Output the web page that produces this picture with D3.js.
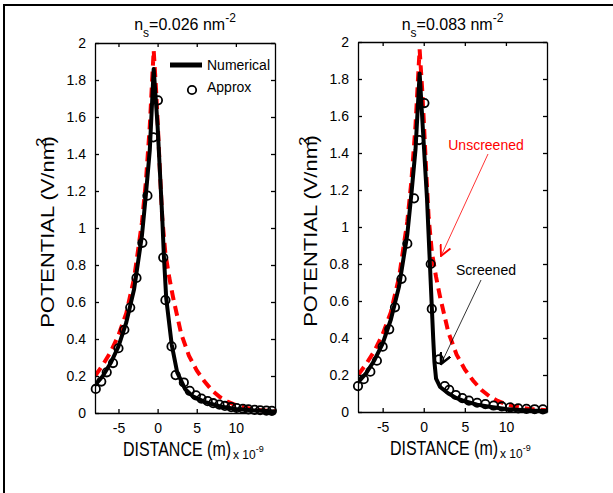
<!DOCTYPE html>
<html>
<head>
<meta charset="utf-8">
<script src="https://cdn.jsdelivr.net/npm/d3@7"></script>
<style>
  body { margin: 0; background: #fff; }
  text { font-family: "Liberation Sans", Arial, sans-serif; }
</style>
</head>
<body>
<div id="chart"></div>
<script>
// data (x in units of 1e-9 m)
const xTicks = [-5, 0, 5, 10];
const yTicks = [0, 0.2, 0.4, 0.6, 0.8, 1, 1.2, 1.4, 1.6, 1.8, 2];

// unscreened potential (red dashed), same in both panels
const unscrX = [-8, -7, -6, -5, -4, -3, -2, -1.5, -1, -0.7, -0.5, -0.2, 0, 0.3, 0.6, 1, 1.5, 2, 3, 4, 5, 6, 7, 8, 9, 10, 11, 12, 13, 14, 15];
const unscrY = [0.2, 0.26, 0.33, 0.42, 0.54, 0.73, 1.03, 1.25, 1.55, 1.8, 1.96, 1.75, 1.58, 1.3, 1.05, 0.86, 0.73, 0.62, 0.43, 0.31, 0.23, 0.17, 0.12, 0.085, 0.06, 0.043, 0.031, 0.022, 0.016, 0.012, 0.01];

// numerical, n_s = 0.026
const numAX = [-8, -7, -6, -5, -4, -3, -2, -1.5, -1, -0.5, 0, 0.3, 0.6, 0.8, 1.1, 1.8, 2.5, 3.5, 4.5, 6, 8, 10, 12, 15];
const numAY = [0.15, 0.2, 0.27, 0.36, 0.49, 0.67, 0.96, 1.18, 1.42, 1.86, 1.55, 1.3, 1.05, 0.85, 0.62, 0.37, 0.22, 0.13, 0.09, 0.06, 0.035, 0.022, 0.015, 0.008];

// approx, n_s = 0.026
const apxAX = [-7.9, -7.2, -6.5, -5.7, -5.0, -4.25, -3.5, -2.7, -1.95, -1.3, -0.55, 0.04, 0.72, 1.0, 1.78, 2.3, 3.35, 4.1, 4.9, 5.6, 6.4, 7.1, 7.9, 8.6, 9.4, 10.1, 10.9, 11.6, 12.4, 13.1, 13.9, 14.6];
const apxAY = [0.13, 0.17, 0.22, 0.27, 0.35, 0.45, 0.57, 0.73, 0.92, 1.175, 1.49, 1.69, 0.84, 0.61, 0.36, 0.205, 0.165, 0.12, 0.095, 0.078, 0.064, 0.053, 0.045, 0.038, 0.032, 0.027, 0.023, 0.02, 0.017, 0.015, 0.013, 0.012];

// numerical, n_s = 0.083
const numBX = [-8, -7, -6, -5, -4, -3, -2, -1.5, -1, -0.5, 0, 0.4, 0.7, 0.95, 1.15, 1.3, 1.5, 2, 3, 4, 5, 6.5, 8, 10, 13, 15];
const numBY = [0.16, 0.21, 0.28, 0.37, 0.5, 0.68, 0.96, 1.18, 1.42, 1.83, 1.45, 1.15, 0.85, 0.6, 0.4, 0.27, 0.18, 0.135, 0.1, 0.075, 0.058, 0.04, 0.028, 0.016, 0.008, 0.005];

// approx, n_s = 0.083
const apxBX = [-8.0, -7.3, -6.5, -5.7, -5.0, -4.2, -3.5, -2.7, -2.0, -1.18, -0.57, 0.08, 0.85, 0.98, 1.87, 2.56, 3.1, 3.9, 4.7, 5.5, 6.5, 7.5, 8.5, 9.5, 10.5, 11.5, 12.5, 13.5, 14.5];
const apxBY = [0.14, 0.177, 0.218, 0.277, 0.353, 0.447, 0.566, 0.72, 0.91, 1.155, 1.47, 1.67, 0.8, 0.557, 0.285, 0.14, 0.12, 0.092, 0.075, 0.062, 0.05, 0.043, 0.035, 0.03, 0.025, 0.02, 0.017, 0.015, 0.014];

const panels = [
  { title: "0.026", left: 95, right: 275, top: 43, bottom: 413, numX: numAX, numY: numAY, apxX: apxAX, apxY: apxAY },
  { title: "0.083", left: 358, right: 547, top: 42, bottom: 412, numX: numBX, numY: numBY, apxX: apxBX, apxY: apxBY }
];

const svg = d3.select("#chart").append("svg")
  .attr("width", 613).attr("height", 493);

svg.append("rect").attr("width", 613).attr("height", 493).attr("fill", "#fff");

// outer page frame
svg.append("path")
  .attr("d", "M4,493 V5 H613")
  .attr("fill", "none").attr("stroke", "#000").attr("stroke-width", 2);

const defs = svg.append("defs");
defs.append("marker")
  .attr("id", "arrRed").attr("viewBox", "0 0 10 10")
  .attr("refX", 9).attr("refY", 5)
  .attr("markerWidth", 12).attr("markerHeight", 12).attr("markerUnits", "userSpaceOnUse")
  .attr("orient", "auto")
  .append("path").attr("d", "M0,0.5 L9,5 L0,9.5").attr("fill", "none").attr("stroke", "red").attr("stroke-width", 1.6);
defs.append("marker")
  .attr("id", "arrBlack").attr("viewBox", "0 0 10 10")
  .attr("refX", 9).attr("refY", 5)
  .attr("markerWidth", 12).attr("markerHeight", 12).attr("markerUnits", "userSpaceOnUse")
  .attr("orient", "auto")
  .append("path").attr("d", "M0,0.5 L9,5 L0,9.5").attr("fill", "none").attr("stroke", "#000").attr("stroke-width", 2);

const fmtTick = d => String(+d.toFixed(1));

panels.forEach(function (p, i) {
  const x = d3.scaleLinear().domain([-8, 15]).range([p.left, p.right]);
  const y = d3.scaleLinear().domain([0, 2]).range([p.bottom, p.top]);
  const g = svg.append("g");

  g.append("rect")
    .attr("x", p.left).attr("y", p.top)
    .attr("width", p.right - p.left).attr("height", p.bottom - p.top)
    .attr("fill", "#fff");

  const clipId = "clip" + i;
  defs.append("clipPath").attr("id", clipId)
    .append("rect").attr("x", p.left).attr("y", p.top - 10)
    .attr("width", p.right - p.left).attr("height", p.bottom - p.top + 10);

  const line = d3.line().x(d => x(d[0])).y(d => y(d[1]));

  // red dashed unscreened
  g.append("path")
    .datum(unscrX.map((v, k) => [v, unscrY[k]]))
    .attr("d", line)
    .attr("clip-path", "url(#" + clipId + ")")
    .attr("fill", "none").attr("stroke", "#ff0000")
    .attr("stroke-width", 4).attr("stroke-dasharray", "10,6");

  // black numerical
  g.append("path")
    .datum(p.numX.map((v, k) => [v, p.numY[k]]))
    .attr("d", line)
    .attr("clip-path", "url(#" + clipId + ")")
    .attr("fill", "none").attr("stroke", "#000")
    .attr("stroke-width", 4).attr("stroke-linejoin", "round");

  // approx circles
  g.selectAll("circle.apx")
    .data(p.apxX.map((v, k) => [v, p.apxY[k]]))
    .enter().append("circle")
    .attr("class", "apx")
    .attr("cx", d => x(d[0])).attr("cy", d => y(d[1]))
    .attr("r", 4.2)
    .attr("fill", "none").attr("stroke", "#000").attr("stroke-width", 1.8);

  // axes (MATLAB box, ticks inside)
  g.append("g").attr("transform", "translate(0," + p.bottom + ")")
    .call(d3.axisBottom(x).tickValues(xTicks).tickSizeInner(-4).tickSizeOuter(0).tickPadding(10).tickFormat(d => String(d)))
    .call(a => a.selectAll("text").attr("font-size", 14).attr("fill", "#000").attr("font-family", "Liberation Sans, Arial"));
  g.append("g").attr("transform", "translate(0," + p.top + ")")
    .call(d3.axisTop(x).tickValues(xTicks).tickSizeInner(-4).tickSizeOuter(0).tickFormat(""));
  g.append("g").attr("transform", "translate(" + p.left + ",0)")
    .call(d3.axisLeft(y).tickValues(yTicks).tickSizeInner(-4).tickSizeOuter(0).tickPadding(9).tickFormat(fmtTick))
    .call(a => a.selectAll("text").attr("font-size", 14).attr("fill", "#000").attr("font-family", "Liberation Sans, Arial"));
  g.append("g").attr("transform", "translate(" + p.right + ",0)")
    .call(d3.axisRight(y).tickValues(yTicks).tickSizeInner(-4).tickSizeOuter(0).tickFormat(""));
  g.selectAll(".domain").attr("stroke", "#000").attr("stroke-width", 1.3);
  g.selectAll(".tick line").attr("stroke", "#000").attr("stroke-width", 1.3);

  const cx = (p.left + p.right) / 2;

  // title
  const t = g.append("text").attr("x", cx).attr("y", 30).attr("text-anchor", "middle")
    .attr("font-size", 16);
  t.append("tspan").text("n");
  t.append("tspan").attr("font-size", 12).attr("dy", 7).text("s");
  t.append("tspan").attr("dy", -7).text("=" + p.title + " nm");
  t.append("tspan").attr("font-size", 12).attr("dy", -8).text("-2");

  // y label (stretched along its length like the picture)
  const yl = g.append("text")
    .attr("transform", "translate(" + (p.left - 41) + "," + ((p.top + p.bottom) / 2 + 4) + ") rotate(-90) scale(1.22,1)")
    .attr("text-anchor", "middle").attr("font-size", 18);
  yl.append("tspan").text("POTENTIAL (V/nm");
  yl.append("tspan").attr("font-size", 14).attr("dy", -8).attr("dx", -4).text("2");
  yl.append("tspan").attr("dy", 8).attr("dx", -5).text(")");

  // x label (stretched vertically like the picture)
  const lx = (i === 0 ? 177 : 444);
  g.append("text")
    .attr("transform", "translate(" + lx + "," + (p.bottom + 43) + ") scale(1,1.3)")
    .attr("text-anchor", "middle").attr("font-size", 16).text("DISTANCE (m)");
  const ex = g.append("text").attr("x", lx + 56).attr("y", p.bottom + 46)
    .attr("font-size", 12);
  ex.append("tspan").text("x 10");
  ex.append("tspan").attr("font-size", 9).attr("dy", -7).text("-9");

  if (i === 0) {
    // legend
    g.append("line").attr("x1", p.left + 75).attr("x2", p.left + 107)
      .attr("y1", 65).attr("y2", 65).attr("stroke", "#000").attr("stroke-width", 5);
    g.append("text").attr("x", p.left + 112).attr("y", 70).attr("font-size", 14).text("Numerical");
    g.append("circle").attr("cx", p.left + 97).attr("cy", 90).attr("r", 4.2)
      .attr("fill", "none").attr("stroke", "#000").attr("stroke-width", 1.8);
    g.append("text").attr("x", p.left + 112).attr("y", 92).attr("font-size", 14).text("Approx");
  } else {
    // annotations
    g.append("text").attr("x", 486).attr("y", 150).attr("text-anchor", "middle")
      .attr("font-size", 14).attr("fill", "#ff0000").text("Unscreened");
    g.append("line").attr("x1", 488).attr("y1", 154).attr("x2", 441).attr("y2", 256)
      .attr("stroke", "#ff0000").attr("stroke-width", 0.8).attr("marker-end", "url(#arrRed)");
    g.append("text").attr("x", 486).attr("y", 275).attr("text-anchor", "middle")
      .attr("font-size", 14).attr("fill", "#000").text("Screened");
    g.append("line").attr("x1", 481).attr("y1", 280).attr("x2", 441).attr("y2", 364)
      .attr("stroke", "#000").attr("stroke-width", 0.8).attr("marker-end", "url(#arrBlack)");
  }
});
</script>
</body>
</html>
